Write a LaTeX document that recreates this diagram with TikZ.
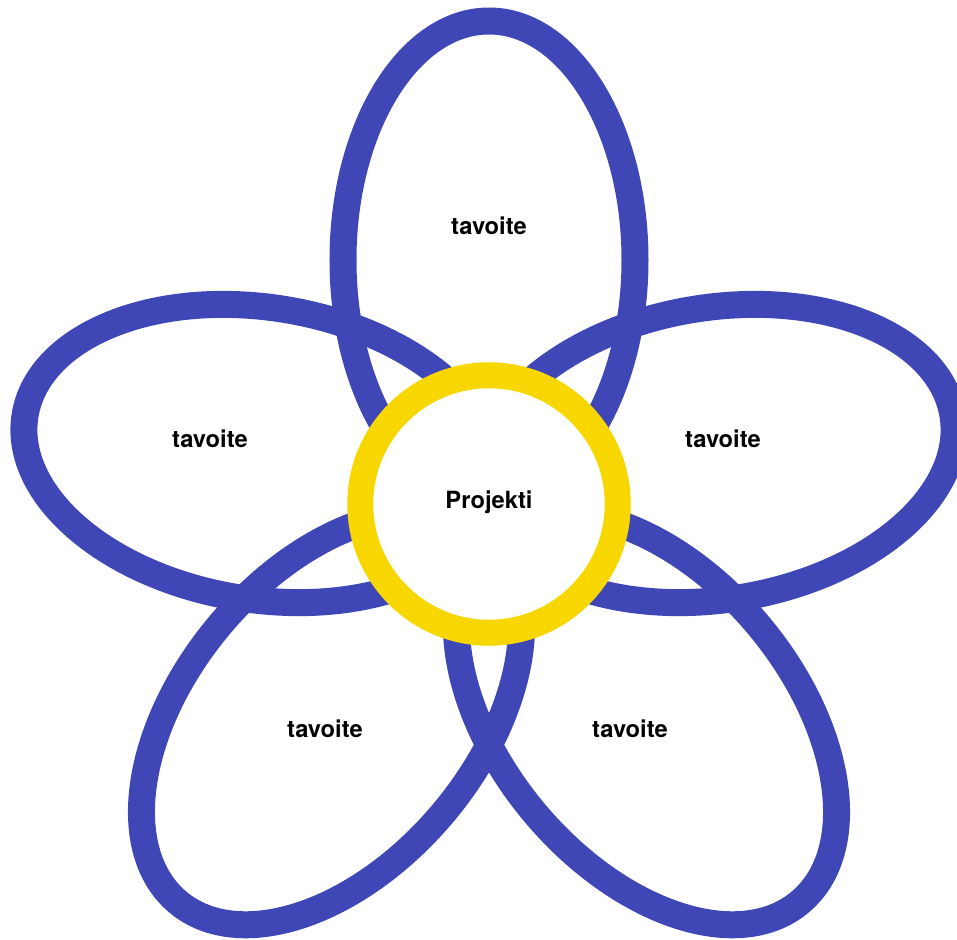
\documentclass[tikz,border=0pt]{standalone}
\usepackage{fontspec}
\setmainfont{TeX Gyre Heros}
\usepackage{xcolor}
\usepackage{tikz}
\usetikzlibrary{shapes.geometric, positioning}
\definecolor{petalblue}{HTML}{3F46B6}
\definecolor{coreyellow}{HTML}{F8D600}
\tikzset{every node/.append style={align=center, inner sep=3pt}}

\begin{document}
\begin{tikzpicture}[
    font=\fontsize{13.5}{16}\selectfont\bfseries,
    petal/.style={draw=petalblue, line width=0.54cm},
    core/.style={circle, draw=coreyellow, fill=white, line width=0.52cm,
        minimum size=5.15cm, inner sep=0pt},
    lab/.style={text=black}
]
\useasboundingbox (-9.78,-8.70) rectangle (9.36,10.08);
% ===== TERÄLEHDET =====
\draw[petal] (0,4.88) ellipse [x radius=2.92, y radius=4.78];
\draw[petal, shift={(-4.56,1.01)}, rotate=-9.2] (0,0) ellipse [x radius=4.78, y radius=2.92];
\draw[petal, shift={(4.56,1.01)}, rotate=9.2] (0,0) ellipse [x radius=4.78, y radius=2.92];
\draw[petal, shift={(-3.15,-4.30)}, rotate=50] (0,0) ellipse [x radius=4.78, y radius=2.92];
\draw[petal, shift={(3.15,-4.30)}, rotate=-50] (0,0) ellipse [x radius=4.78, y radius=2.92];
% ===== KESKUS =====
\node[core] (proj) at (0,0) {};
\node[lab] (projlab) at (0,0.04) {Projekti};
% ===== TAVOITTEET =====
\node[lab] (top)    at (0,5.56)      {tavoite};
\node[lab] (left)   at (-5.58,1.30)  {tavoite};
\node[lab] (right)  at (4.68,1.30)   {tavoite};
\node[lab] (bleft)  at (-3.28,-4.50) {tavoite};
\node[lab] (bright) at (2.82,-4.50)  {tavoite};
\end{tikzpicture}
\end{document}
